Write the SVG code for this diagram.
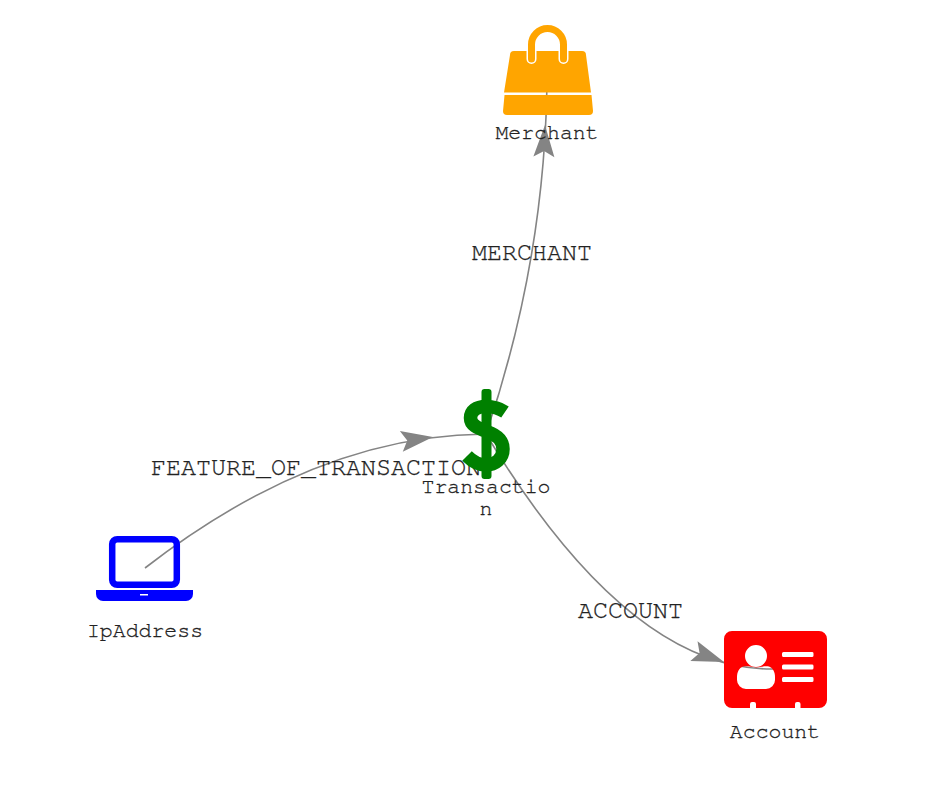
<svg xmlns="http://www.w3.org/2000/svg" width="936" height="792" viewBox="0 0 936 792">
<style>
.edge{fill:none;stroke:#848484;stroke-width:1.6}
.head{fill:#848484}
.nl{font:21.5px "Nimbus Mono PS","FreeMono","Courier","Courier New","Liberation Mono",monospace;fill:#222;stroke:#222;stroke-width:.3;text-anchor:middle}
.el{font:25px "Nimbus Mono PS","FreeMono","Courier","Courier New","Liberation Mono",monospace;fill:#222;stroke:#222;stroke-width:.3;text-anchor:middle}
</style>
<defs>
<path id="arrow" d="M0 0L-32 -10.500L-26 0L-32 10.500Z"/>
</defs>
<rect width="936" height="792" fill="#fff"/>
<g id="connectors">
<path class="edge" d="M145 568Q316.500 435 486 434"/>
<path class="edge" d="M486 434Q547 254 547 70"/>
<path class="edge" d="M486 434Q629.500 672 775 669"/>
<use href="#arrow" class="head" transform="translate(433 437) rotate(-8)"/>
<use href="#arrow" class="head" transform="translate(545 125) rotate(-88)"/>
<use href="#arrow" class="head" transform="translate(724 662) rotate(20)"/>
<text class="el" x="316" y="475">FEATURE_OF_TRANSACTION</text>
<text class="el" x="532" y="260">MERCHANT</text>
<text class="el" x="630.500" y="618">ACCOUNT</text>
</g>
<g id="node-merchant">
<path d="M510 55a4 4 0 0 1 4-4H582a4 4 0 0 1 4 4L591 92.500H504Z" fill="#ffa500"/>
<path d="M504.500 95H591.500L593 111a4 4 0 0 1-4 4H507a4 4 0 0 1-4-4Z" fill="#ffa500"/>
<path d="M531.500 59V44.500a16 16 0 0 1 32 0V59" fill="none" stroke="#fff" stroke-width="10" stroke-linecap="round"/>
<path d="M531.500 59V44.500a16 16 0 0 1 32 0V59" fill="none" stroke="#ffa500" stroke-width="7" stroke-linecap="round"/>
<text class="nl" x="547" y="139">Merchant</text>
</g>
<g id="node-transaction">
<path d="M505 412C499 408 493 406.500 486 406.500C476 406.500 470.500 411 470.500 418C470.500 425 477 428 487 431.500C497 435 503 440 503 449C503 459 495 465 486 465C478 465 472 461 467 456" fill="none" stroke="#008000" stroke-width="13.500"/>
<path d="M481.500 392a3 3 0 0 1 3-3h4a3 3 0 0 1 3 3V476a3 3 0 0 1-3 3h-4a3 3 0 0 1-3-3Z" fill="#008000"/>
<text class="nl" x="486" y="493">Transactio</text>
<text class="nl" x="486" y="515">n</text>
</g>
<g id="node-ipaddress">
<rect x="112.200" y="539.200" width="64.600" height="45.600" rx="5" fill="none" stroke="#0000ff" stroke-width="6.500"/>
<path d="M96 590H193V594a7 7 0 0 1-7 7H103a7 7 0 0 1-7-7Z" fill="#0000ff"/>
<rect x="140" y="594" width="8" height="1.500" fill="#fff"/>
<text class="nl" x="145" y="637">IpAddress</text>
</g>
<g id="node-account">
<path fill-rule="evenodd" fill="#ff0000" d="M732 631H819a8 8 0 0 1 8 8V700a8 8 0 0 1-8 8H800.500V704a2 2 0 0 0-2-2H797a2 2 0 0 0-2 2V708H756V704a2 2 0 0 0-2-2H752a2 2 0 0 0-2 2V708H732a8 8 0 0 1-8-8V639a8 8 0 0 1 8-8Z
M745 656a11 11 0 1 0 22 0a11 11 0 1 0-22 0Z
M743 666.500C748 666 752 667 756 667.500C760 667 764 666 769 666.500C773 668 775 672 775 677V680a9 9 0 0 1-9 9H746a9 9 0 0 1-9-9V677C737 672 739 668 743 666.500Z
M783.500 652H812a1.500 1.500 0 0 1 1.500 1.500V655.500a1.500 1.500 0 0 1-1.500 1.500H783.500a1.500 1.500 0 0 1-1.500-1.500V653.500a1.500 1.500 0 0 1 1.500-1.500Z
M783.500 664.500H812a1.500 1.500 0 0 1 1.500 1.500V668a1.500 1.500 0 0 1-1.500 1.500H783.500a1.500 1.500 0 0 1-1.500-1.500V666a1.500 1.500 0 0 1 1.500-1.500Z
M783.500 677H812a1.500 1.500 0 0 1 1.500 1.500V680.500a1.500 1.500 0 0 1-1.500 1.500H783.500a1.500 1.500 0 0 1-1.500-1.500V678.500a1.500 1.500 0 0 1 1.500-1.500Z"/>
<text class="nl" x="775" y="738">Account</text>
</g>
</svg>
